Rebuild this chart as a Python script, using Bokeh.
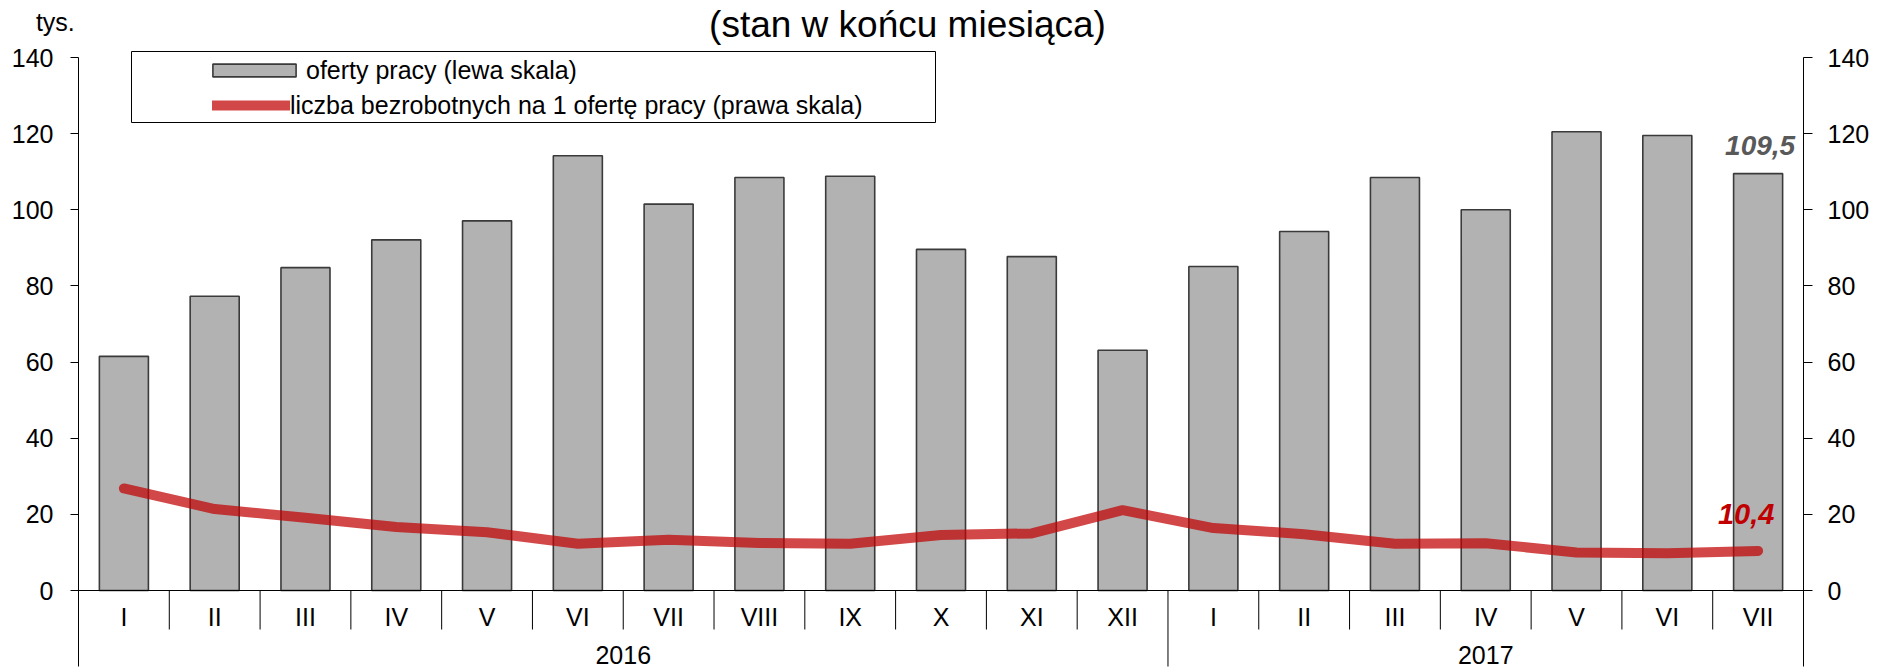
from bokeh.plotting import figure
from bokeh.models import (Range1d, LinearAxis, FixedTicker, Span, Label, Legend,
                          LegendItem, BoxAnnotation, ColumnDataSource)
from bokeh.core.properties import value
from bokeh.embed import file_html
from bokeh.resources import INLINE

# ---------------- data ----------------
years = ["2016", "2017"]
months_2016 = ["I", "II", "III", "IV", "V", "VI", "VII", "VIII", "IX", "X", "XI", "XII"]
months_2017 = ["I", "II", "III", "IV", "V", "VI", "VII"]
job_offers = [61.5, 77.3, 84.8, 92.1, 97.1, 114.2, 101.5, 108.5, 108.8, 89.6, 87.7, 63.1,
              85.1, 94.3, 108.5, 100.0, 120.5, 119.5, 109.5]
unemployed_per_offer = [26.8, 21.4, 19.1, 16.7, 15.3, 12.3, 13.3, 12.5, 12.3, 14.6, 15.0, 21.1,
                        16.4, 14.8, 12.3, 12.4, 10.0, 9.8, 10.4]
y_ticks = [0, 20, 40, 60, 80, 100, 120, 140]
title_text = "(stan w końcu miesiąca)"
unit_text = "tys."
legend_bars = "oferty pracy (lewa skala)"
legend_line = "liczba bezrobotnych na 1 ofertę pracy (prawa skala)"

FONT = "Liberation Sans"
months = months_2016 + months_2017
n = len(months)
xs = [i + 0.5 for i in range(n)]

# ---------------- layout ----------------
FRAME_H = 672
PX = 533.0 / y_ticks[-1]          # pixels per unit
ZERO_PX = 590                       # canvas y of the zero line
Y_MAX = ZERO_PX / PX
Y_MIN = -(FRAME_H - ZERO_PX) / PX
AXIS_LOW = -(666 - ZERO_PX) / PX    # bottom end of axis lines / group separators
SEP_LOW = -(629 - ZERO_PX) / PX     # bottom end of month separators

p = figure(frame_width=1725, frame_height=FRAME_H, output_backend="svg", toolbar_location=None,
           x_range=Range1d(0, n), y_range=Range1d(Y_MIN, Y_MAX),
           x_axis_location=None, min_border_left=78, min_border_right=72,
           min_border_top=0, min_border_bottom=0)
p.extra_y_ranges = {"right": Range1d(Y_MIN, Y_MAX)}
p.outline_line_color = None
p.xgrid.visible = False
p.ygrid.visible = False
p.background_fill_color = "white"
p.border_fill_color = "white"

def style_axis(ax, tick_out, standoff):
    ax.ticker = FixedTicker(ticks=y_ticks)
    ax.bounds = (AXIS_LOW, y_ticks[-1])
    ax.axis_line_color = "black"
    ax.axis_line_width = 1
    ax.major_tick_line_color = "black"
    ax.major_tick_in = 0
    ax.major_tick_out = tick_out
    ax.minor_tick_line_color = None
    ax.major_label_text_font = FONT
    ax.major_label_text_font_size = "25px"
    ax.major_label_text_color = "black"
    ax.major_label_standoff = standoff

left_axis = p.yaxis[0]
style_axis(left_axis, 8, 17)
# unit label at the top end of the left axis (blank first line pushes it below the edge)
left_axis.axis_label = "\n" + unit_text
left_axis.axis_label_orientation = "horizontal"
left_axis.axis_label_align = "end"
left_axis.axis_label_standoff = -66
left_axis.axis_label_text_font = FONT
left_axis.axis_label_text_font_size = "25px"
left_axis.axis_label_text_font_style = "normal"
left_axis.axis_label_text_color = "black"
left_axis.axis_label_text_line_height = 1.5

right_axis = LinearAxis(y_range_name="right")
style_axis(right_axis, 9, 15)
p.add_layout(right_axis, "right")

src = ColumnDataSource(dict(x=xs, offers=job_offers, ratio=unemployed_per_offer, month=months))

bars = p.vbar(x="x", top="offers", bottom=0, width=0.54, source=src,
              fill_color="#b2b2b2", line_color="#3a3a3a", line_width=1.6)

p.add_layout(Span(location=0, dimension="width", line_color="black", line_width=1))

# category separators
n16 = len(months_2016)
sep_x = [float(b) for b in range(1, n) if b != n16]
p.segment(x0=sep_x, y0=[0] * len(sep_x), x1=sep_x, y1=[SEP_LOW] * len(sep_x),
          line_color="black", line_width=1)
p.segment(x0=[n16], y0=[0], x1=[n16], y1=[AXIS_LOW], line_color="black", line_width=1)

line = p.line(x="x", y="ratio", source=src, y_range_name="right", line_color="#c00000",
              line_alpha=0.72, line_width=10, line_cap="round", line_join="round")

# month labels and year labels
p.text(x="x", y=-(616 - ZERO_PX) / PX, text="month", source=src, text_font=value(FONT),
       text_font_size="25px", text_align="center", text_baseline="middle", text_color="black")
year_x = [n16 / 2, n16 + (n - n16) / 2]
year_y = -(654 - ZERO_PX) / PX
p.text(x=year_x, y=[year_y, year_y], text=years, text_font=value(FONT), text_font_size="25px",
       text_align="center", text_baseline="middle", text_color="black")

# value labels of the last point
last = n - 1
p.text(x=[xs[last]], y=[job_offers[last]], text=[f"{job_offers[last]:.1f}".replace(".", ",")],
       text_font=value(FONT), text_font_size="28px", text_font_style="bold italic",
       text_color="#595959", text_align="center", text_baseline="alphabetic",
       x_offset=2, y_offset=-28)
p.text(x=[xs[last]], y=[unemployed_per_offer[last]],
       text=[f"{unemployed_per_offer[last]:.1f}".replace(".", ",")], y_range_name="right",
       text_font=value(FONT), text_font_size="29px", text_font_style="bold italic",
       text_color="#c00000", text_align="center", text_baseline="alphabetic",
       x_offset=-12, y_offset=-37)

# title
p.add_layout(Label(x=829, y=FRAME_H - 24, x_units="screen", y_units="screen", text=title_text,
                   text_font=FONT, text_font_size="37px", text_align="center",
                   text_baseline="middle", text_color="black"))

# legend frame
p.add_layout(BoxAnnotation(left=53, right=857, top=FRAME_H - 51, bottom=FRAME_H - 122,
                           left_units="screen", right_units="screen",
                           top_units="screen", bottom_units="screen",
                           fill_alpha=0, line_color="black", line_width=1, line_alpha=1))

def make_legend(item, loc, gw, gh, standoff):
    return Legend(items=[item], location=loc, orientation="vertical", glyph_width=gw,
                  glyph_height=gh, label_height=30, label_standoff=standoff, padding=0,
                  margin=0, spacing=0, border_line_color=None, background_fill_alpha=0,
                  label_text_font=FONT, label_text_font_size="25px", label_text_color="black")

p.add_layout(make_legend(LegendItem(label=legend_bars, renderers=[bars]),
                         (124, FRAME_H - 85), 104, 16, -17))
p.add_layout(make_legend(LegendItem(label=legend_line, renderers=[line]),
                         (134, FRAME_H - 120), 78, 30, -2))

open("out.html", "w").write(file_html(p, INLINE))
